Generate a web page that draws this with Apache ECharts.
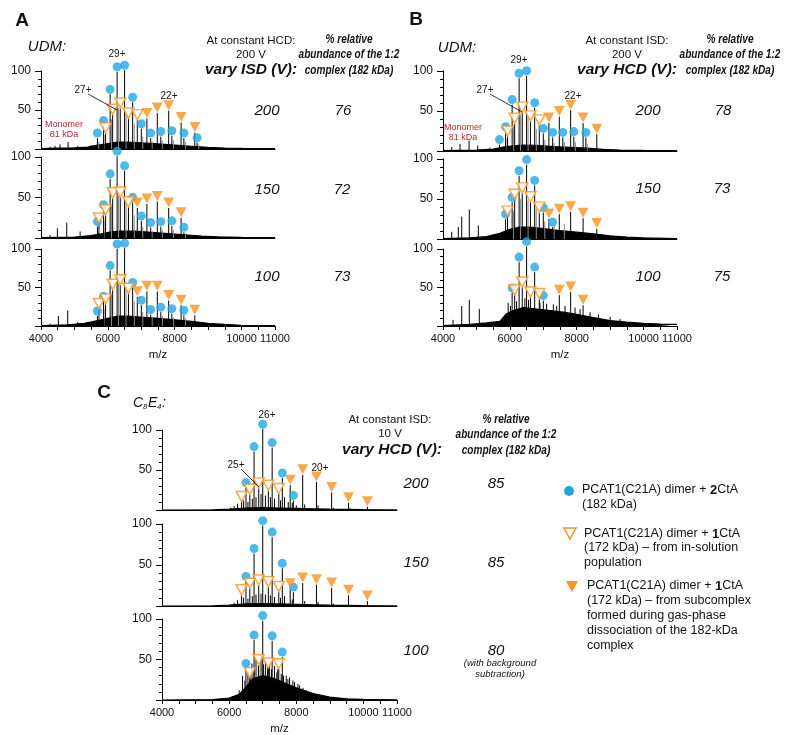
<!DOCTYPE html>
<html><head><meta charset="utf-8">
<script src="https://cdn.jsdelivr.net/npm/echarts@6/dist/echarts.min.js"></script>
<style>html,body{margin:0;padding:0;background:#fff}#c{width:785px;height:735px}</style>
</head><body><div id="c"></div>
<script>
// ---------- tick labels ----------
const xTickLabels = [4000, 6000, 8000, 10000, 11000];
const yTickLabels = [50, 100];

// ---------- Panel A (UDM, HCD 200 V, vary ISD) ----------
const A1_hump = [[4000,0.5],[4500,1],[5000,1.5],[5400,2.5],[5700,5],[6000,7],[6300,9],[6600,9],[7000,8],[7500,6.5],[8000,5],[8500,3.5],[9000,2],[9500,1.2],[10000,0.8],[11000,0.5]];
const A1_blue = [[5688,14],[5872,30],[6068,70],[6277,99],[6501,101],[6742,60],[7001,26],[7281,14],[7584,16],[7914,17],[8274,14],[8668,8]];
const A1_open = [[5932,20],[6144,44],[6371,52],[6616,39],[6881,37]];
const A1_fill = [[7168,39],[7479,46],[7819,49],[8191,34],[8601,21]];
const A1_minor = [[4270,3],[4420,4],[4570,6],[4810,9],[5100,4],[5500,5]];
const A1_grey = [[5730,9],[5915,18],[6110,38],[6320,52],[6545,50],[6790,32],[7045,16],[7325,10],[7630,11],[7960,11],[8320,9],[8720,6]];

const A2_hump = [[4000,0.5],[5000,1.2],[5500,3],[5800,5],[6100,7.5],[6400,8.5],[6800,8.5],[7300,7],[7800,5.5],[8300,4],[8800,2.5],[9300,1.5],[10000,0.8],[11000,0.5]];
const A2_blue = [[5688,14],[5872,35],[6068,73],[6277,101],[6501,83],[6742,44],[7001,21],[7281,13],[7584,14],[7914,15],[8274,7]];
const A2_open = [[5734,18],[5932,28],[6144,49],[6371,50],[6616,38]];
const A2_fill = [[6881,37],[7168,42],[7479,45],[7819,37],[8191,25]];
const A2_minor = [[4270,4],[4490,12],[4770,19],[5170,8],[5500,4]];
const A2_grey = [[5915,22],[6110,40],[6320,52],[6545,45],[6790,28],[7045,14],[7325,9],[7630,10],[7960,10],[8320,6]];

const A3_hump = [[4000,0.5],[4800,1.5],[5300,3.5],[5700,7],[6000,10],[6300,13],[6600,13],[7000,11.5],[7500,10],[8000,8],[8500,6],[9000,3.5],[9500,2],[10000,1],[11000,0.5]];
const A3_blue = [[5688,13],[5872,32],[6068,72],[6277,100],[6501,101],[6742,50],[7001,27],[7281,15],[7584,18],[7914,16],[8274,14]];
const A3_open = [[5734,22],[5932,28],[6144,47],[6371,53],[6616,42]];
const A3_fill = [[6881,38],[7168,45],[7479,45],[7819,33],[8191,27],[8601,14]];
const A3_minor = [[4270,3],[4520,13],[4800,20],[5100,5],[5450,4]];
const A3_grey = [[5915,22],[6110,42],[6320,55],[6545,52],[6790,32],[7045,18],[7325,12],[7630,13],[7960,11],[8320,10]];

// ---------- Panel B (UDM, ISD 200 V, vary HCD) ----------
const B1_hump = [[4000,0.5],[5000,1.2],[5500,2.5],[5800,5],[6100,6.5],[6400,7.5],[6800,7],[7300,5.5],[7800,4.5],[8300,3.5],[8800,2],[9300,1.2],[10000,0.8],[11000,0.5]];
const B1_blue = [[5688,8],[5872,24],[6068,58],[6277,91],[6501,94],[6742,54],[7001,22],[7281,17],[7584,17],[7914,18],[8274,17]];
const B1_open = [[5932,18],[6144,34],[6371,48],[6616,37],[6881,32]];
const B1_fill = [[7168,35],[7479,43],[7819,51],[8191,35],[8601,21]];
const B1_minor = [[4260,5],[4510,9],[4780,13],[5040,7],[5400,4]];
const B1_grey = [[5915,15],[6110,32],[6320,45],[6545,42],[6790,28],[7045,14],[7325,10],[7630,11],[7960,11],[8320,9]];

const B2_hump = [[4000,0.5],[4800,1.5],[5300,3],[5700,7],[6000,12],[6300,15],[6600,15],[7000,13],[7500,10.5],[8000,8.5],[8500,6.5],[9000,4],[9500,2.5],[10000,1.5],[11000,0.5]];
const B2_blue = [[5872,25],[6068,46],[6277,79],[6501,93],[6742,67],[7001,33],[7281,15]];
const B2_open = [[5932,28],[6144,49],[6371,57],[6616,46],[6881,33]];
const B2_fill = [[7168,25],[7479,31],[7819,34],[8191,26],[8601,13]];
const B2_minor = [[4260,9],[4458,15],[4560,28],[4787,37],[5056,17]];
const B2_grey = [[6110,35],[6320,50],[6545,48],[6790,38],[7045,22],[7325,18],[7630,19]];

const B3_hump = [[4000,0.5],[4800,2],[5300,4],[5700,6],[5900,16],[6100,20],[6400,24],[6800,22],[7200,20],[7600,18],[8000,15],[8500,11],[9000,7],[9500,5],[10000,3.5],[10500,2.5],[11000,2]];
const B3_blue = [[6068,43],[6277,83],[6501,103],[6742,70],[7001,33]];
const B3_open = [[6144,40],[6371,50],[6616,37],[6881,35]];
const B3_fill = [[7479,40],[7819,44],[8191,27]];
const B3_minor = [[4300,8],[4560,26],[4787,34],[5086,22],[5950,30],[6020,26],[6200,32],[6450,36],[6560,34],[6900,30],[7100,29],[7300,28],[7400,26],[7650,26],[7950,24],[8100,22],[8400,18],[8650,15],[9000,12],[9300,9]];
const B3_grey = [];

// ---------- Panel C (C8E4, ISD 10 V, vary HCD) ----------
const C1_hump = [[4000,0],[5500,0.3],[6000,1],[6500,2.5],[7000,3],[7500,2.5],[8000,2],[8500,1.5],[9000,1],[10000,0.5],[11000,0.2]];
const C1_blue = [[6501,28],[6742,73],[7001,101],[7281,78],[7584,40],[7914,12]];
const C1_open = [[6371,10],[6616,19],[6881,27],[7168,24],[7479,20]];
const C1_fill = [[7819,31],[8191,44],[8601,35],[9053,22],[9556,9],[10118,4]];
const C1_minor = [[6050,3],[6150,5],[6250,8],[6430,12],[6560,10],[6690,14],[6800,16],[6950,20],[7080,18],[7230,16],[7350,14],[7530,12],[7650,16],[7760,10],[7880,9],[8000,6],[8250,7],[8650,6],[9100,3],[9600,2]];
const C1_grey = [];

const C2_hump = [[4000,0],[5500,0.3],[6000,1],[6500,2.5],[7000,3],[7500,2.5],[8000,2],[8500,1.5],[9000,1],[10000,0.5],[11000,0.2]];
const C2_blue = [[6501,30],[6742,64],[7001,98],[7281,84],[7584,46],[7914,17]];
const C2_open = [[6371,13],[6616,21],[6881,25],[7168,23],[7479,17]];
const C2_fill = [[7819,21],[8191,28],[8601,26],[9053,22],[9556,13],[10118,6]];
const C2_minor = [[6150,4],[6250,7],[6430,10],[6560,9],[6690,12],[6800,14],[6950,15],[7080,14],[7230,13],[7350,11],[7530,10],[7650,12],[7880,8],[8250,6],[8650,5],[9100,3]];
const C2_grey = [];

const C3_hump = [[4000,0],[5500,0.5],[6000,2.5],[6300,7],[6500,16],[6700,26],[7000,30],[7300,27],[7600,22],[8000,15],[8500,8],[9000,3.5],[9500,1.5],[10000,0.8],[11000,0.3]];
const C3_blue = [[6501,39],[6742,74],[7001,98],[7281,73],[7584,53]];
const C3_open = [[6616,27],[6881,43],[7168,39],[7479,38]];
const C3_fill = [];
const C3_minor = [[6300,12],[6400,30],[6470,24],[6560,35],[6620,30],[6680,45],[6740,38],[6800,50],[6870,42],[6950,55],[7020,44],[7080,48],[7140,40],[7200,45],[7260,38],[7350,42],[7420,34],[7450,38],[7550,32],[7620,30],[7700,30],[7750,26],[7800,28],[7900,24],[7950,22],[8050,20],[8100,18],[8200,15],[8300,12],[8450,9],[8600,7]];
const C3_grey = [];

const panels = [
  [A1_hump, A1_blue, A1_open, A1_fill, A1_minor, A1_grey],
  [A2_hump, A2_blue, A2_open, A2_fill, A2_minor, A2_grey],
  [A3_hump, A3_blue, A3_open, A3_fill, A3_minor, A3_grey],
  [B1_hump, B1_blue, B1_open, B1_fill, B1_minor, B1_grey],
  [B2_hump, B2_blue, B2_open, B2_fill, B2_minor, B2_grey],
  [B3_hump, B3_blue, B3_open, B3_fill, B3_minor, B3_grey],
  [C1_hump, C1_blue, C1_open, C1_fill, C1_minor, C1_grey],
  [C2_hump, C2_blue, C2_open, C2_fill, C2_minor, C2_grey],
  [C3_hump, C3_blue, C3_open, C3_fill, C3_minor, C3_grey]
];

// ---------- layout (px) ----------
const layout = [
  {left:41, top:71, w:234, h:78, ax:false},
  {left:41, top:157, w:234, h:81, ax:false},
  {left:41, top:249, w:234, h:77, ax:true},
  {left:443, top:71, w:234, h:80, ax:false},
  {left:443, top:159, w:234, h:80, ax:false},
  {left:443, top:249, w:234, h:77, ax:true},
  {left:162, top:430, w:235, h:80, ax:false},
  {left:162, top:524, w:235, h:82, ax:false},
  {left:162, top:619, w:235, h:81, ax:true}
];

const BLUE = '#22a7e2', ORANGE = '#f7931e', RED = '#c1272d';
const FF = "'Liberation Sans', Arial, sans-serif";

const grid = [], xAxis = [], yAxis = [], series = [];
function spikes(i, data, color, z) {
  return {type:'custom', xAxisIndex:i, yAxisIndex:i, clip:false, silent:true, z:z,
    data:data, encode:{x:0, y:1},
    renderItem:(p, api) => {
      const a = api.coord([api.value(0), 0]);
      const b = api.coord([api.value(0), api.value(1)]);
      return {type:'line', shape:{x1:a[0], y1:a[1], x2:b[0], y2:b[1]}, style:{stroke:color, lineWidth:1}};
    }};
}
layout.forEach((L, i) => {
  grid.push({left:L.left, top:L.top, width:L.w, height:L.h, containLabel:false, outerBoundsMode:'none'});
  xAxis.push({
    gridIndex:i, type:'value', min:4000, max:11000, interval:500,
    axisLine:{show:true, onZero:false, lineStyle:{color:'#000', width:1}},
    axisTick:{show:L.ax, length:4, lineStyle:{color:'#000'}},
    axisLabel:{show:L.ax, fontSize:11, fontFamily:FF, color:'#111', margin:7,
      formatter:v => xTickLabels.includes(v) ? String(v) : ''},
    splitLine:{show:false},
    name:L.ax ? 'm/z' : '', nameLocation:'middle', nameGap:23,
    nameTextStyle:{fontSize:11.5, fontFamily:FF, color:'#111'}
  });
  yAxis.push({
    gridIndex:i, type:'value', min:0, max:100, interval:50,
    axisLine:{show:true, lineStyle:{color:'#000', width:1}},
    axisTick:{show:true, length:6, lineStyle:{color:'#000'}},
    minorTick:{show:true, splitNumber:5, length:3, lineStyle:{color:'#000'}},
    axisLabel:{fontSize:12, fontFamily:FF, color:'#111', margin:10,
      formatter:v => yTickLabels.includes(v) ? String(v) : ''},
    splitLine:{show:false}, minorSplitLine:{show:false}
  });
  const [hump, blue, open, fill, minor, grey] = panels[i];
  series.push({type:'line', xAxisIndex:i, yAxisIndex:i, data:hump, symbol:'none', silent:true,
    lineStyle:{color:'#000', width:1.2}, areaStyle:{color:'#000', opacity:1}, z:1});
  series.push(spikes(i, grey, '#8a8a8a', 2));
  series.push(spikes(i, minor.concat(blue, open, fill), '#000', 3));
  series.push({type:'scatter', xAxisIndex:i, yAxisIndex:i, data:blue, clip:false, silent:true, z:5,
    symbol:'circle', symbolSize:9, symbolOffset:[0,-5], itemStyle:{color:BLUE}});
  series.push({type:'scatter', xAxisIndex:i, yAxisIndex:i, data:open, clip:false, silent:true, z:5,
    symbol:'triangle', symbolRotate:180, symbolSize:[11,10], symbolOffset:[0,-5.5],
    itemStyle:{color:'#fff', borderColor:ORANGE, borderWidth:1.5}});
  series.push({type:'scatter', xAxisIndex:i, yAxisIndex:i, data:fill, clip:false, silent:true, z:5,
    symbol:'triangle', symbolRotate:180, symbolSize:[11,10], symbolOffset:[0,-5.5],
    itemStyle:{color:ORANGE}});
});

function txt(x, y, text, font, o) {
  o = o || {};
  const al = o.align || 'center';
  const el = {type:'text', x:x, y:y, silent:true, z:10,
    style:{text:text, font:font, fill:o.fill || '#111', align:al, verticalAlign:'middle',
      textAlign:al, textVerticalAlign:'middle', rich:o.rich}};
  if (o.scaleX) el.scaleX = o.scaleX;
  return el;
}
const f = (s, w) => (w ? w + ' ' : '') + s + 'px ' + FF;

const graphics = [];
graphics.push(txt(22, 21, 'A', f(19,'bold')));
graphics.push(txt(416, 20, 'B', f(19,'bold')));
graphics.push(txt(104, 393, 'C', f(19,'bold')));
graphics.push(txt(47, 47, 'UDM:', f(15,'italic')));
graphics.push(txt(457, 48, 'UDM:', f(15,'italic')));
graphics.push(txt(133, 403, 'C', f(14,'italic'), {align:'left'}));
graphics.push(txt(143, 407, '8', f(8,'italic'), {align:'left'}));
graphics.push(txt(148, 403, 'E', f(14,'italic'), {align:'left'}));
graphics.push(txt(157, 407, '4', f(8,'italic'), {align:'left'}));
graphics.push(txt(162, 403, ':', f(14,'italic'), {align:'left'}));

function header(cx, l1, l2, l3) {
  graphics.push(txt(cx, 41, l1, f(11.5)));
  graphics.push(txt(cx, 55, l2, f(11.5)));
  graphics.push(txt(cx, 70, l3, f(15.5,'bold italic')));
}
function pctHeader(cx, y0) {
  graphics.push(txt(cx, y0, '% relative', f(12,'bold italic'), {scaleX:0.84}));
  graphics.push(txt(cx, y0 + 15, 'abundance of the 1:2', f(12,'bold italic'), {scaleX:0.84}));
  graphics.push(txt(cx, y0 + 31, 'complex (182 kDa)', f(12,'bold italic'), {scaleX:0.84}));
}
header(251, 'At constant HCD:', '200 V', 'vary ISD (V):');
pctHeader(349, 40);
header(627, 'At constant ISD:', '200 V', 'vary HCD (V):');
pctHeader(730, 40);
graphics.push(txt(390, 420, 'At constant ISD:', f(11.5)));
graphics.push(txt(390, 434, '10 V', f(11.5)));
graphics.push(txt(392, 450, 'vary HCD (V):', f(15.5,'bold italic')));
pctHeader(506, 420);

const rowsTxt = [
  [267, 111, '200', 343, '76'], [267, 190, '150', 342, '72'], [267, 277, '100', 342, '73'],
  [648, 111, '200', 723, '78'], [648, 189, '150', 722, '73'], [648, 277, '100', 722, '75'],
  [416, 484, '200', 496, '85'], [416, 563, '150', 496, '85'], [416, 651, '100', 496, '80']
];
rowsTxt.forEach(r => {
  graphics.push(txt(r[0], r[1], r[2], f(15,'italic')));
  graphics.push(txt(r[3], r[1], r[4], f(15,'italic')));
});
graphics.push(txt(500, 663, '(with background', f(9.5,'italic')));
graphics.push(txt(500, 674, 'subtraction)', f(9.5,'italic')));

graphics.push(txt(117, 54, '29+', f(10)));
graphics.push(txt(83, 90, '27+', f(10)));
graphics.push(txt(169, 96, '22+', f(10)));
graphics.push({type:'line', silent:true, z:10, shape:{x1:88, y1:94, x2:117, y2:110}, style:{stroke:'#000', lineWidth:0.8}});
graphics.push(txt(519, 60, '29+', f(10)));
graphics.push(txt(485, 90, '27+', f(10)));
graphics.push(txt(573, 96, '22+', f(10)));
graphics.push({type:'line', silent:true, z:10, shape:{x1:490, y1:94, x2:522, y2:112}, style:{stroke:'#000', lineWidth:0.8}});
graphics.push(txt(267, 415, '26+', f(10)));
graphics.push(txt(236, 465, '25+', f(10)));
graphics.push(txt(320, 468, '20+', f(10)));
graphics.push({type:'line', silent:true, z:10, shape:{x1:241, y1:469, x2:259, y2:487}, style:{stroke:'#000', lineWidth:0.8}});

graphics.push(txt(64, 125, 'Monomer', f(9), {fill:RED}));
graphics.push(txt(64, 135, '81 kDa', f(9), {fill:RED}));
graphics.push(txt(463, 128, 'Monomer', f(9), {fill:RED}));
graphics.push(txt(463, 138, '81 kDa', f(9), {fill:RED}));

graphics.push({type:'circle', silent:true, z:10, shape:{cx:569, cy:491, r:5}, style:{fill:BLUE}});
graphics.push({type:'polygon', silent:true, z:10, shape:{points:[[564,528],[576,528],[570,539]]}, style:{fill:'#fff', stroke:ORANGE, lineWidth:1.5}});
graphics.push({type:'polygon', silent:true, z:10, shape:{points:[[566,581],[578,581],[572,592]]}, style:{fill:ORANGE}});
const LR = {b:{font:f(13,'bold')}, n:{font:f(12.5)}};
const LF = f(12.5);
graphics.push(txt(582, 490, '{n|PCAT1(C21A) dimer + }{b|2}{n|CtA}', LF, {align:'left', rich:LR}));
graphics.push(txt(582, 505, '(182 kDa)', LF, {align:'left'}));
graphics.push(txt(584, 534, '{n|PCAT1(C21A) dimer + }{b|1}{n|CtA}', LF, {align:'left', rich:LR}));
graphics.push(txt(584, 548, '(172 kDa) – from in-solution', LF, {align:'left'}));
graphics.push(txt(584, 563, 'population', LF, {align:'left'}));
graphics.push(txt(587, 586, '{n|PCAT1(C21A) dimer + }{b|1}{n|CtA}', LF, {align:'left', rich:LR}));
graphics.push(txt(587, 601, '(172 kDa) – from subcomplex', LF, {align:'left'}));
graphics.push(txt(587, 616, 'formed during gas-phase', LF, {align:'left'}));
graphics.push(txt(587, 631, 'dissociation of the 182-kDa', LF, {align:'left'}));
graphics.push(txt(587, 646, 'complex', LF, {align:'left'}));

const chart = echarts.init(document.getElementById('c'), null, {renderer:'canvas'});
chart.setOption({animation:false, backgroundColor:'#fff', grid, xAxis, yAxis, series, graphic:{elements:graphics}});
</script></body></html>
